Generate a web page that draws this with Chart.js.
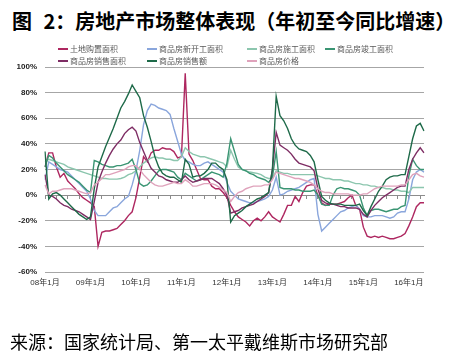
<!DOCTYPE html>
<html>
<head>
<meta charset="utf-8">
<script src="https://cdn.jsdelivr.net/npm/chart.js@4.4.1/dist/chart.umd.min.js"></script>
<style>
  html, body { margin: 0; padding: 0; background: #fff; }
  #page { position: relative; width: 450px; height: 357px; overflow: hidden; background: #fff; }
  #title { position: absolute; left: 12px; top: 10px; font: 700 20px "Noto Sans CJK SC", sans-serif; line-height: 22px; color: #000; white-space: nowrap; word-spacing: 7px; }
  #source { position: absolute; left: 10px; top: 331px; font: 400 18px "Noto Sans CJK SC", sans-serif; line-height: 20px; color: #000; white-space: nowrap; }
  #chartBox { position: absolute; left: 0; top: 0; width: 450px; height: 357px; }
  .lg { position: absolute; height: 10px; font: 400 8px "Noto Sans CJK SC", sans-serif; line-height: 10px; color: #595959; white-space: nowrap; }
  .lg i { display: inline-block; width: 10px; height: 2px; vertical-align: middle; margin-right: 2px; position: relative; top: -1px; }
</style>
</head>
<body>
<div id="page">
  <div id="title">图 2：房地产市场整体表现（年初至今同比增速）</div>
  <div id="chartBox"><canvas id="c" width="450" height="357"></canvas></div>
  <div id="legend"></div>
  <div id="source">来源：国家统计局、第一太平戴维斯市场研究部</div>
</div>
<script>
// ---- categories (monthly, 2008-01 .. 2016-05) ----
const years = ["08","09","10","11","12","13","14","15","16"];
const categories = [];
for (const y of years) {
  for (let m = 1; m <= 12; m++) {
    if (categories.length < 101) categories.push(y + "年" + m + "月");
  }
}
const tickLabels = ["08年1月","09年1月","10年1月","11年1月","12年1月","13年1月","14年1月","15年1月","16年1月"];

// ---- series names ----
const seriesNames = ["土地购置面积","商品房新开工面积","商品房施工面积","商品房竣工面积","商品房销售面积","商品房销售额","商品房价格"];

// ---- series values (%, year-to-date y/y) ----
const landPurchase = [
  22,33,33,22,14,17,11,8,5,1,
  -2,-4,-6,-9,-40,-29,-28,-28,-27,-26,
  -23,-20,-16,-13,-2,14,30,26,33,35,
  35,37,36,36,34,29,30,95,32,27,
  20,13,12,12,7,5,5,2,-2,-8,
  -13,-17,-19,-21,-24,-20,-18,-20,-17,-13,
  -17,-19,-21,-15,-8,-8,-1,-5,2,7,
  8,8,0,-6,-8,-7,-7,-7,-6,-5,
  -2,0,-8,-11,-25,-32,-33,-32,-33,-32,
  -33,-34,-34,-33,-32,-30,-24,-17,-9,-6,
  -6];
const newStarts = [
  12,26,24,22,20,19,18,15,12,9,
  6,3,-3,-12,-16,-16,-16,-13,-10,-9,
  -6,-3,-1,8,19,35,55,66,71,70,
  68,67,66,63,52,42,32,27,26,24,
  23,23,25,26,24,22,20,18,10,3,
  0,-3,-4,-5,-6,-6,-5,-4,-3,-1,
  4,14,0,1,3,4,5,6,8,10,
  12,13,-15,-28,-25,-22,-19,-16,-13,-12,
  -10,-9,-8,-11,-16,-17,-17,-16,-16,-16,
  -17,-18,-17,-14,-13,-13,-3,12,18,20,
  18];
const underConstruction = [
  26,28,27,26,25,24,22,21,20,19,
  18,17,16,15,14,13,13,12.5,12.5,12.5,
  13,14,16,17,19,22,25,27,29,30,
  29,29,28,28,27,27,30,37,34,32,
  31,30,30,29,28,27,26,25,22,35,
  28,22,20,19,18,17.5,17,16,14,13,
  13,19,18,17,17,16,16,16,16,16,
  16,16,15,14,13,13,12,12,12,11,
  11,10,9,9,8,8,7,7,6,6,
  5,5,4,4,3,3,2,6,6,6,
  6];
const completed = [
  22,31,29,25,22,19,16,14,12,10,
  7,4,2,27,26,24,23,22,22,23,
  23,24,25,28,20,9,7,8,11,15,
  19,20,20,19,18,14,12,17,15,13,
  11,12,14,16,18,17,16,14,25,44,
  34,24,20,19,17,16,14,13,12,10,
  14,34,6,5,5,5,4,4,3,3,
  3,4,0,-7,-8,-8,0,5,6,5,
  5,4,3,0,-10,-16,-12,-11,-11,-12,
  -13,-12,-11,-11,-9,-8,15,28,23,20,
  20];
const salesArea = [
  16,0,-1,-3,-6,-8,-9,-11,-12,-13,
  -15,-17,-19,-5,10,18,25,31,36,40,
  43,48,51,53,50,41,34,27,21,18,
  15,14,12,11,10,10,12,15,12,10,
  11,12,13,13,13,11,9,5,0,-14,
  -13,-12,-10,-9,-8,-7,-5,-3,-1,2,
  20,49,39,37,35,32,28,25,24,23,
  22,19,5,-4,-6,-7,-7,-8,-9,-9,
  -10,-10,-10,-11,-15,-17,-12,-8,-5,-2,
  0,2,4,6,7,7,20,28,33,37,
  33];
const salesValue = [
  34,-3,1,2,0,-3,-6,-9,-12,-15,
  -17,-19,-17,5,22,30,38,45,52,60,
  68,73,79,86,81,76,62,53,42,30,
  22,17,15,14,14,12,10,28,24,14,
  15,15,17,20,25,25,22,20,12,-21,
  -16,-14,-12,-9,-7,-5,-3,-2,0,2,
  20,77,62,58,52,44,39,36,35,34,
  31,26,12,-1,-4,-6,-7,-7,-7,-8,
  -8,-8,-8,-7,-12,-16,-9,-3,3,7,
  12,14,15,15,16,16,30,44,54,56,
  50];
const price = [
  8,1,3,3,4,5,5,5,4,3,
  2,1,2,8,10,13,16,16,17,18,
  19,20,22,23,23,20,16,13,10,8,
  7,7,8,9,10,9,9,12,10,7,
  7,8,9,9,9,8,6,4,2,-5,
  -1,2,3,5,6,7,7,7,8,8,
  12,18,17,16,15,14,13,13,12,11,
  10,8,5,3,2,2,1,1,1,1,
  1,0,0,0,1,1,3,5,6,7,
  7,7,7,7,8,8,12,16,17,15,
  14];

const seriesValues = [landPurchase, newStarts, underConstruction, completed, salesArea, salesValue, price];
const seriesColors = ["#AE2760","#8AA6DC","#8CC6AE","#3A9573","#7E2D64","#1E6A49","#DFA2BB"];

const datasets = seriesNames.map((name, i) => ({
  label: name,
  data: seriesValues[i],
  borderColor: seriesColors[i],
  backgroundColor: seriesColors[i],
  borderWidth: 1.4,
  pointRadius: 0,
  pointHoverRadius: 0,
  tension: 0,
  fill: false,
  xAxisID: 'x',
  yAxisID: 'y',
  order: seriesNames.length - i
}));

const chart = new Chart(document.getElementById('c'), {
  type: 'line',
  data: { labels: categories, datasets },
  options: {
    responsive: false,
    devicePixelRatio: 1,
    animation: false,
    events: [],
    layout: { padding: { top: 67, right: 26, bottom: 63, left: 0 } },
    plugins: { legend: { display: false }, tooltip: { enabled: false }, title: { display: false } },
    scales: {
      x: {
        type: 'category',
        position: 'bottom',
        grid: { display: false, drawTicks: false },
        border: { display: false },
        ticks: {
          autoSkip: false, maxRotation: 0, minRotation: 0, padding: 6,
          color: '#333',
          font: { size: 8, family: "'Liberation Sans', 'Noto Sans CJK SC', sans-serif" },
          callback: function (v) {
            const l = this.getLabelForValue(v);
            return tickLabels.includes(l) ? l : '';
          }
        },
        afterFit: s => { s.height = 22; }
      },
      x0: {
        type: 'category',
        position: { y: 0 },
        grid: {
          display: true, drawOnChartArea: false, drawTicks: true, tickLength: 3, lineWidth: 1,
          color: ctx => (ctx.index % 3 === 0 ? '#8C8C8C' : 'rgba(0,0,0,0)')
        },
        border: { display: true, color: '#8C8C8C', width: 1 },
        ticks: { display: false }
      },
      y: {
        type: 'linear',
        min: -60, max: 100,
        ticks: {
          stepSize: 20, padding: 8, color: '#222',
          font: { size: 8, weight: 'bold', family: "'Liberation Sans', sans-serif" },
          callback: v => v + '%'
        },
        grid: { color: '#A6A6A6', lineWidth: 1, drawTicks: false },
        border: { display: false },
        afterFit: s => { s.width = 45; }
      }
    }
  }
});

// ---- HTML legend built from the chart datasets ----
const legendPos = [[58,44],[147,44],[247,44],[325,44],[58,56],[147,56],[247,56]];
const lg = document.getElementById('legend');
chart.data.datasets.forEach((ds, i) => {
  const d = document.createElement('div');
  d.className = 'lg';
  d.style.left = legendPos[i][0] + 'px';
  d.style.top = legendPos[i][1] + 'px';
  const sw = document.createElement('i');
  sw.style.background = ds.borderColor;
  d.appendChild(sw);
  d.appendChild(document.createTextNode(ds.label));
  lg.appendChild(d);
});
</script>
</body>
</html>
